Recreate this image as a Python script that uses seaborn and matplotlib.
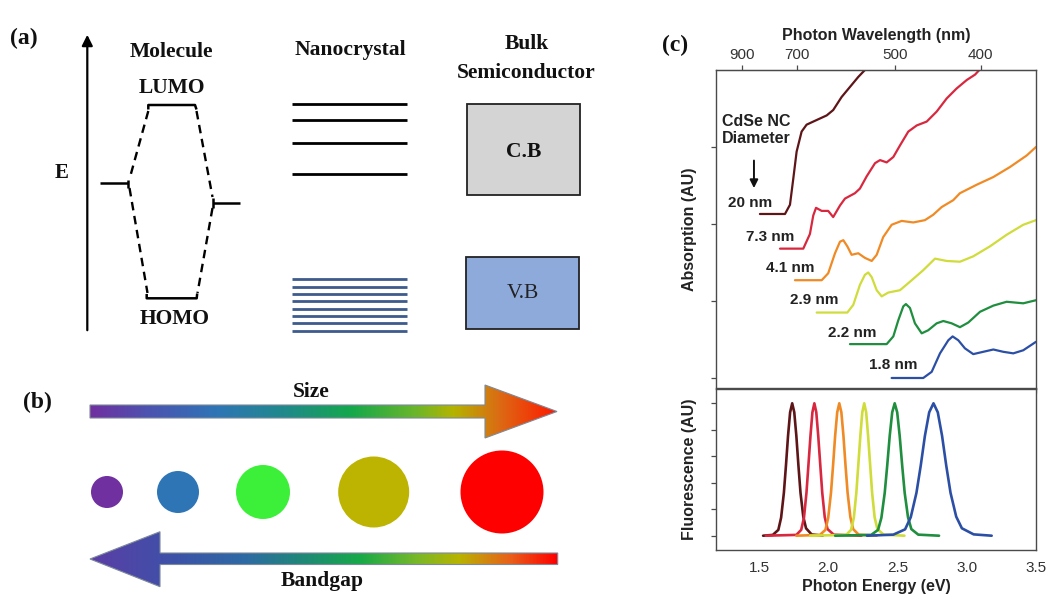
import numpy as np
import pandas as pd
import matplotlib
matplotlib.use("Agg")
import matplotlib.pyplot as plt
import seaborn as sns
from matplotlib.patches import Polygon, Circle, Rectangle
from matplotlib.colors import LinearSegmentedColormap

sns.set_style("ticks")
plt.rcParams["font.family"] = ["Liberation Sans", "DejaVu Sans"]

# ---------------- data: CdSe nanocrystal spectra ----------------
diameters = ["20 nm", "7.3 nm", "4.1 nm", "2.9 nm", "2.2 nm", "1.8 nm"]
line_colors = ["#5e1518", "#d8283f", "#f08a24", "#cfdc3a", "#1f8e3e", "#2c4fa6"]

# absorption (photon energy in eV, arbitrary offset units)
abs_20_e = [1.507, 1.688, 1.724, 1.748, 1.772, 1.808, 1.844, 1.904, 1.989, 2.036, 2.097, 2.157, 2.217, 2.265, 2.30]
abs_20_v = [2.13, 2.13, 2.25, 2.59, 2.94, 3.20, 3.29, 3.34, 3.41, 3.48, 3.65, 3.78, 3.91, 4.00, 4.06]
abs_73_e = [1.652, 1.82, 1.868, 1.892, 1.912, 1.953, 2.0, 2.036, 2.085, 2.121, 2.193, 2.229, 2.278,
            2.338, 2.374, 2.422, 2.47, 2.518, 2.578, 2.639, 2.711, 2.783, 2.855, 2.927, 3.0, 3.06, 3.096, 3.13]
abs_73_v = [1.68, 1.68, 1.87, 2.11, 2.21, 2.17, 2.17, 2.09, 2.24, 2.33, 2.40, 2.46, 2.62,
            2.79, 2.83, 2.80, 2.87, 3.02, 3.20, 3.28, 3.33, 3.46, 3.63, 3.76, 3.87, 3.94, 4.01, 4.06]
abs_41_e = [1.76, 1.953, 2.0, 2.049, 2.085, 2.109, 2.138, 2.169, 2.217, 2.265, 2.314, 2.35, 2.397,
            2.458, 2.53, 2.614, 2.698, 2.758, 2.819, 2.903, 2.951, 3.072, 3.192, 3.312, 3.433, 3.5]
abs_41_v = [1.27, 1.27, 1.36, 1.62, 1.77, 1.79, 1.71, 1.60, 1.62, 1.56, 1.52, 1.60, 1.83,
            1.99, 2.04, 2.02, 2.05, 2.12, 2.22, 2.31, 2.40, 2.51, 2.61, 2.74, 2.89, 3.00]
abs_29_e = [1.917, 2.138, 2.181, 2.229, 2.265, 2.289, 2.314, 2.35, 2.386, 2.434, 2.518, 2.59,
            2.686, 2.771, 2.855, 2.951, 3.047, 3.168, 3.288, 3.408, 3.5]
abs_29_v = [0.85, 0.85, 0.95, 1.21, 1.34, 1.37, 1.31, 1.14, 1.06, 1.11, 1.14, 1.25,
            1.40, 1.55, 1.52, 1.51, 1.58, 1.71, 1.86, 1.99, 2.05]
abs_22_e = [2.157, 2.422, 2.47, 2.506, 2.542, 2.561, 2.59, 2.626, 2.675, 2.722, 2.783, 2.831,
            2.891, 2.951, 3.011, 3.096, 3.192, 3.288, 3.408, 3.5]
abs_22_v = [0.44, 0.44, 0.54, 0.75, 0.93, 0.96, 0.91, 0.71, 0.58, 0.62, 0.71, 0.74,
            0.71, 0.66, 0.72, 0.86, 0.94, 0.99, 0.97, 1.01]
abs_18_e = [2.458, 2.686, 2.747, 2.807, 2.867, 2.898, 2.939, 2.987, 3.047, 3.119, 3.192, 3.264,
            3.336, 3.408, 3.5]
abs_18_v = [0.0, 0.0, 0.08, 0.32, 0.49, 0.54, 0.49, 0.385, 0.31, 0.34, 0.37, 0.34,
            0.32, 0.36, 0.47]

# fluorescence (photon energy in eV, normalised counts)
fl_20_e = [1.53, 1.60, 1.64, 1.66, 1.68, 1.695, 1.71, 1.725, 1.74, 1.755, 1.77, 1.785, 1.80, 1.82, 1.84, 1.88, 1.96]
fl_20_i = [0.0, 0.03, 0.22, 0.68, 1.62, 2.65, 3.77, 4.66, 5.0, 4.66, 3.77, 2.65, 1.62, 0.72, 0.28, 0.05, 0.0]
fl_73_e = [1.55, 1.77, 1.805, 1.825, 1.843, 1.857, 1.872, 1.886, 1.90, 1.914, 1.928, 1.943, 1.957, 1.975, 1.995, 2.04, 2.24]
fl_73_i = [0.0, 0.03, 0.22, 0.68, 1.62, 2.65, 3.77, 4.66, 5.0, 4.66, 3.77, 2.65, 1.62, 0.70, 0.25, 0.04, 0.0]
fl_41_e = [1.77, 1.94, 1.98, 2.00, 2.02, 2.035, 2.05, 2.065, 2.08, 2.095, 2.11, 2.125, 2.14, 2.16, 2.18, 2.22, 2.35]
fl_41_i = [0.0, 0.03, 0.22, 0.68, 1.62, 2.65, 3.77, 4.66, 5.0, 4.66, 3.77, 2.65, 1.62, 0.70, 0.25, 0.04, 0.0]
fl_29_e = [1.87, 2.13, 2.165, 2.185, 2.203, 2.217, 2.232, 2.246, 2.26, 2.274, 2.288, 2.303, 2.317, 2.335, 2.355, 2.40, 2.55]
fl_29_i = [0.0, 0.03, 0.22, 0.68, 1.62, 2.65, 3.77, 4.66, 5.0, 4.66, 3.77, 2.65, 1.62, 0.70, 0.25, 0.04, 0.0]
fl_22_e = [2.05, 2.31, 2.36, 2.384, 2.408, 2.426, 2.444, 2.462, 2.48, 2.498, 2.516, 2.534, 2.552, 2.576, 2.60, 2.65, 2.80]
fl_22_i = [0.0, 0.03, 0.22, 0.68, 1.62, 2.65, 3.77, 4.66, 5.0, 4.66, 3.77, 2.65, 1.62, 0.70, 0.25, 0.04, 0.0]
fl_18_e = [2.28, 2.47, 2.555, 2.596, 2.637, 2.668, 2.698, 2.729, 2.76, 2.791, 2.822, 2.852, 2.883, 2.924, 2.965, 3.05, 3.18]
fl_18_i = [0.0, 0.04, 0.24, 0.70, 1.62, 2.65, 3.77, 4.66, 5.0, 4.66, 3.77, 2.65, 1.62, 0.72, 0.28, 0.05, 0.0]

energy_ticks = [1.5, 2.0, 2.5, 3.0, 3.5]
energy_ticklabels = ["1.5", "2.0", "2.5", "3.0", "3.5"]
wavelength_ticks = [900, 700, 500, 400]

# ---------------- data: schematic panels ----------------
nc_conduction_levels = [104.3, 120.0, 143.3, 174.0]
nc_valence_levels = [279.3, 286.7, 294.0, 301.3, 308.7, 316.0, 323.3, 330.7]
particle_diameters = [32, 42, 54, 71, 83]
particle_colors = ["#7030a0", "#2e75b6", "#3cf03a", "#bcb400", "#ff0000"]

abs_sets = [(abs_20_e, abs_20_v), (abs_73_e, abs_73_v), (abs_41_e, abs_41_v),
            (abs_29_e, abs_29_v), (abs_22_e, abs_22_v), (abs_18_e, abs_18_v)]
fl_sets = [(fl_20_e, fl_20_i), (fl_73_e, fl_73_i), (fl_41_e, fl_41_i),
           (fl_29_e, fl_29_i), (fl_22_e, fl_22_i), (fl_18_e, fl_18_i)]


def long_frame(sets):
    rows = []
    for name, (ex, vy) in zip(diameters, sets):
        for k, (e, v) in enumerate(zip(ex, vy)):
            rows.append({"diameter": name, "order": k, "energy": e, "signal": v})
    return pd.DataFrame(rows)


abs_df = long_frame(abs_sets)
fl_df = long_frame(fl_sets)

W, H = 1049, 596
fig = plt.figure(figsize=(W / 100, H / 100), dpi=100)

# full-figure canvas in pixel units for the schematics
ax0 = fig.add_axes([0, 0, 1, 1])
ax0.set_xlim(0, W)
ax0.set_ylim(H, 0)
ax0.axis("off")

SERIF = "Liberation Serif"
ink = "#111111"

# ---------- (a) energy level diagram ----------
ax0.text(24, 38, "(a)", family=SERIF, fontsize=17, fontweight="bold", ha="center", va="center", color=ink)
ax0.annotate("", xy=(87.3, 32), xytext=(87.3, 333),
             arrowprops=dict(arrowstyle="-|>", lw=1.6, color="black", mutation_scale=16))
ax0.text(62, 173, "E", family=SERIF, fontsize=15, fontweight="bold", ha="center", va="center", color=ink)

head_kw = dict(family=SERIF, fontsize=15.5, fontweight="semibold", ha="center", va="center", color=ink)
ax0.text(171.7, 52, "Molecule", **head_kw)
ax0.text(171.7, 88, "LUMO", **head_kw)
ax0.text(175, 319, "HOMO", **head_kw)
ax0.text(350, 50, "Nanocrystal", **head_kw)
ax0.text(526.7, 44, "Bulk", **head_kw)
ax0.text(525.8, 72.5, "Semiconductor", **head_kw)

lvl = dict(color="black", lw=1.8, solid_capstyle="butt")
ax0.plot([148.3, 148.3, 195, 196.5], [109.5, 105, 105, 109.5], **lvl)
ax0.plot([146.7, 146.7, 196.7, 197.2], [294, 298.3, 298.3, 293.5], **lvl)
ax0.plot([100, 128.3], [183.3, 183.3], **lvl)
ax0.plot([128.3, 128.3], [179.5, 188], **lvl)
ax0.plot([213.3, 240], [202.7, 202.7], **lvl)
ax0.plot([213.3, 213.3], [197.5, 207.5], **lvl)
dash = dict(color="black", lw=1.7, ls=(0, (3.6, 2.4)))
ax0.plot([148.3, 129.5], [111, 179], **dash)
ax0.plot([129.5, 147.5], [188, 293], **dash)
ax0.plot([196.5, 212.5], [111, 197], **dash)
ax0.plot([212.5, 197.5], [208, 293], **dash)

for y in nc_conduction_levels:
    ax0.plot([291.7, 406.7], [y, y], color="black", lw=2.0, solid_capstyle="butt")
for y in nc_valence_levels:
    ax0.plot([291.7, 406.7], [y, y], color="#3d5b8c", lw=2.0, solid_capstyle="butt")

ax0.add_patch(Rectangle((466.7, 104.3), 113.3, 90.7, facecolor="#d4d4d4", edgecolor="#222222", lw=1.3))
ax0.add_patch(Rectangle((466.0, 256.7), 113.3, 72.6, facecolor="#8eaadb", edgecolor="#222222", lw=1.3))
ax0.text(523.3, 151.7, "C.B", family=SERIF, fontsize=15.5, fontweight="bold", ha="center", va="center", color=ink)
ax0.text(523.0, 293.0, "V.B", family=SERIF, fontsize=15.5, ha="center", va="center", color="#222222")

# ---------- (b) size / bandgap ----------
ax0.text(37, 402, "(b)", family=SERIF, fontsize=17, fontweight="bold", ha="center", va="center", color=ink)


def gradient_arrow(verts, stops, x0, x1, y0, y1):
    cmap = LinearSegmentedColormap.from_list("g", stops)
    grad = np.linspace(0, 1, 400)[None, :]
    poly = Polygon(verts, closed=True, facecolor="none", edgecolor="#7d8a9a", lw=0.8, zorder=3)
    ax0.add_patch(poly)
    im = ax0.imshow(grad, cmap=cmap, extent=(x0, x1, y1, y0), aspect="auto", zorder=2,
                    interpolation="bilinear")
    im.set_clip_path(poly)


size_stops = [(0.0, "#7030a0"), (0.12, "#4d52b0"), (0.27, "#2e75b6"), (0.42, "#208a8a"),
              (0.56, "#14a84c"), (0.70, "#6cb62a"), (0.78, "#b4b400"), (0.88, "#dc6a14"), (1.0, "#ff1a00")]
gradient_arrow([(90, 405), (485, 405), (485, 385), (557, 411.5), (485, 438), (485, 418), (90, 418)],
               size_stops, 90, 557, 385, 438)
ax0.text(311.5, 392, "Size", family=SERIF, fontsize=15.5, fontweight="semibold", ha="center", va="center", color=ink)

for cx, d, c in zip([107, 178, 263, 373.7, 502], particle_diameters, particle_colors):
    ax0.add_patch(Circle((cx, 492), d / 2, facecolor=c, edgecolor="none"))

gap_stops = [(0.0, "#5b3ea6"), (0.18, "#3d52a8"), (0.33, "#2e6aa4"), (0.47, "#1e8c72"),
             (0.58, "#18aa48"), (0.70, "#78b828"), (0.79, "#b8b400"), (0.90, "#e8601a"), (1.0, "#ff0000")]
gradient_arrow([(557.7, 553), (160, 553), (160, 531.7), (90, 559), (160, 586.7), (160, 564.5), (557.7, 564.5)],
               gap_stops, 90, 557.7, 531.7, 586.7)
ax0.text(322, 581, "Bandgap", family=SERIF, fontsize=15.5, fontweight="semibold", ha="center", va="center", color=ink)

# ---------- (c) absorption / fluorescence spectra ----------
ax0.text(675, 45, "(c)", family=SERIF, fontsize=17, fontweight="bold", ha="center", va="center", color=ink)

L, R = 716, 1036
ax_abs = fig.add_axes([L / W, (H - 388) / H, (R - L) / W, (388 - 70) / H])
ax_fl = fig.add_axes([L / W, (H - 550) / H, (R - L) / W, (550 - 389) / H])

sns.lineplot(data=abs_df, x="energy", y="signal", hue="diameter", hue_order=diameters,
             palette=line_colors, units="diameter", estimator=None, sort=False,
             legend=False, lw=1.6, ax=ax_abs)
sns.lineplot(data=fl_df, x="energy", y="signal", hue="diameter", hue_order=diameters,
             palette=line_colors, units="diameter", estimator=None, sort=False,
             legend=False, lw=1.9, ax=ax_fl)
for ln in ax_abs.get_lines() + ax_fl.get_lines():
    ln.set_solid_joinstyle("round")

for a in (ax_abs, ax_fl):
    a.set_xlim(1.19, 3.5)
    a.set_xticks(energy_ticks)
    for s in a.spines.values():
        s.set_color("#4a4a4a")
        s.set_linewidth(1.0)
    a.set_yticklabels([])

ax_abs.set_ylim(-0.13, 4.0)
ax_abs.set_yticks([0, 1, 2, 3])
ax_abs.set_yticklabels([])
ax_abs.set_xticklabels([])
ax_abs.set_xlabel("")
ax_abs.tick_params(axis="both", direction="out", length=3.5, width=0.9, color="#4a4a4a")
ax_abs.set_ylabel("Absorption (AU)", fontsize=11.5, fontweight="bold", color="#222222")
ax_abs.yaxis.set_label_coords(-0.06, 0.5)

ax_fl.set_ylim(-0.54, 5.54)
ax_fl.set_yticks([0, 1, 2, 3, 4, 5])
ax_fl.set_yticklabels([])
ax_fl.set_xticklabels(energy_ticklabels)
ax_fl.tick_params(axis="y", direction="out", length=3.5, width=0.9, color="#4a4a4a")
ax_fl.tick_params(axis="x", length=0, pad=8, labelsize=11, labelcolor="#333333")
ax_fl.set_xlabel("Photon Energy (eV)", fontsize=11.5, fontweight="bold", color="#222222", labelpad=3)
ax_fl.set_ylabel("Fluorescence (AU)", fontsize=11.5, fontweight="bold", color="#222222")
ax_fl.yaxis.set_label_coords(-0.06, 0.5)


def ev_to_nm(e):
    e = np.asarray(e, dtype=float)
    with np.errstate(divide="ignore", invalid="ignore"):
        return 1239.84 / e


sec = ax_abs.secondary_xaxis("top", functions=(ev_to_nm, ev_to_nm))
sec.set_xticks(wavelength_ticks)
sec.set_xticklabels([str(t) for t in wavelength_ticks])
sec.tick_params(direction="out", length=3.5, width=0.9, color="#4a4a4a", labelsize=11,
                labelcolor="#333333", pad=2)
sec.spines["top"].set_color("#4a4a4a")
sec.set_xlabel("Photon Wavelength (nm)", fontsize=11.5, fontweight="bold", color="#222222", labelpad=6)

# diameter labels beside each absorption trace
label_pos = [(1.433, 2.277), (1.579, 1.835), (1.729, 1.424), (1.902, 1.013), (2.176, 0.58), (2.473, 0.169)]
for name, (ex, vy) in zip(diameters, label_pos):
    ax_abs.text(ex, vy, name, fontsize=11, fontweight="bold", color="#222222", ha="center", va="center")

ax_abs.text(1.477, 3.22, "CdSe NC\nDiameter", fontsize=11.5, fontweight="bold", color="#222222",
            ha="center", va="center", linespacing=1.2)
ax_abs.annotate("", xy=(1.464, 2.43), xytext=(1.464, 2.86),
                arrowprops=dict(arrowstyle="-|>", lw=1.4, color="#111111", mutation_scale=12))

fig.savefig("out.png", dpi=100)
